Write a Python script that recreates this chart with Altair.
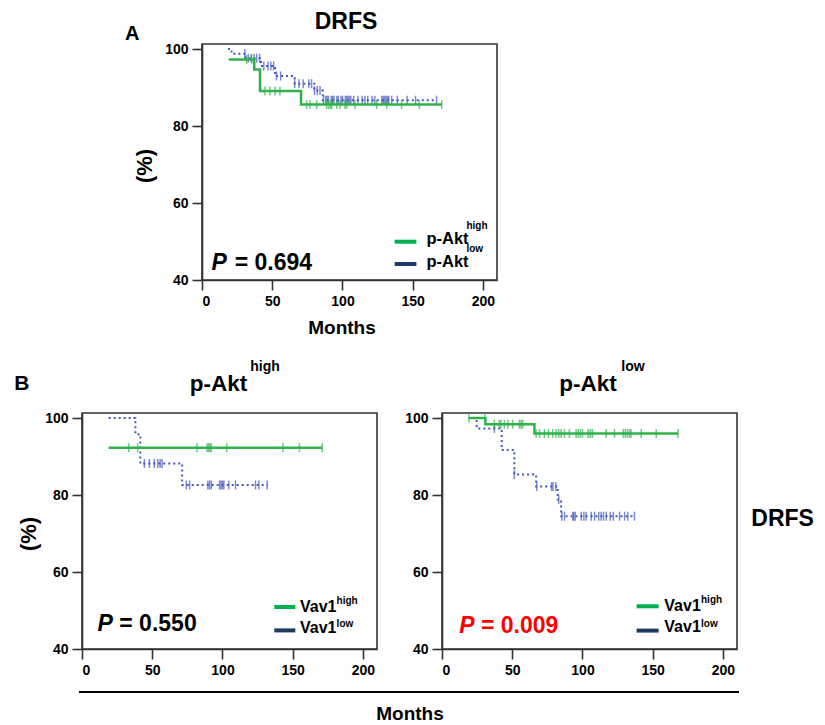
import altair as alt
import pandas as pd

FONT = "Liberation Sans"
GREEN = "#2fb24c"
BLUE = "#4458bd"
LEG_GREEN = "#00b050"
LEG_NAVY = "#1f3864"
RED = "#ff0000"

XTICKS = [0, 50, 100, 150, 200]
YTICKS = [40, 60, 80, 100]

# ---- Panel A: DRFS by p-Akt ----
a_hi_times = [19, 37.2, 41.3, 70.5]
a_hi_levels = [97.3, 94.7, 89.1, 85.6]
a_hi_end = 170.6
a_hi_cens = [31.8, 35.4, 44.8, 48.4, 52, 55.5, 74.5, 76.9, 81.6, 88.7, 90, 91.3, 92.3,
             95.9, 98.2, 101.8, 103, 108.9, 124.3, 131.5, 142.1, 154.7, 170.6]

a_lo_times = [18.5, 21, 31, 42, 52, 66, 80, 86]
a_lo_levels = [100, 98.8, 97.6, 95.6, 93.0, 91.0, 89.2, 86.7]
a_lo_end = 167
a_lo_cens = [30.5, 33, 35, 37, 39, 41, 44, 47, 49, 51, 53, 56, 66, 69, 72, 76, 78, 80, 82,
             84, 86.5, 88, 89, 90, 92, 93, 94, 96, 97, 99, 100, 102, 103, 104, 105, 106, 108,
             111, 114, 116, 118, 121, 123, 128, 129, 130, 131, 132, 133, 135, 139, 146, 152, 167]

# ---- Panel B-left: p-Akt high, by Vav1 ----
bl_hi_times = [19]
bl_hi_levels = [92.3]
bl_hi_end = 171
bl_hi_cens = [33.2, 39.6, 81.9, 89, 90, 91, 92, 103, 143, 154.8, 171]

bl_lo_times = [19, 38, 41.5, 71.3]
bl_lo_levels = [100, 95.8, 88.2, 82.6]
bl_lo_end = 132
bl_lo_cens = [44.4, 48, 51.5, 53.9, 55.6, 57, 74.2, 76.6, 89.6, 90.8, 92, 98, 99, 100, 101,
              104.5, 109.3, 123.5, 125.9, 131.8]

# ---- Panel B-right: p-Akt low, by Vav1 ----
br_hi_times = [19, 30.9, 65.8]
br_hi_levels = [100, 98.4, 96.0]
br_hi_end = 168
br_hi_cens = [19.2, 30.5, 37.3, 40.8, 42, 44.4, 46.8, 50.3, 55.1, 56.3, 57.4, 67, 69.4, 72.9,
              75.8, 78.8, 81.2, 83.1, 84.8, 87.2, 90.7, 95.5, 97, 98.5, 100, 104, 105.5, 107,
              116.9, 122.8, 129, 130.5, 132, 133.5, 134.5, 141.8, 152.5, 168]

br_lo_times = [19, 24.7, 42.5, 51.5, 67, 82.4, 84.8]
br_lo_levels = [100, 97.3, 91.7, 85.3, 82.2, 78.8, 74.5]
br_lo_end = 137
br_lo_cens = [37.3, 51.5, 67.5, 78, 79, 81, 83.1, 85.3, 87.2, 93.1, 93.8, 94.8, 99.1, 101,
              102.6, 106.2, 108.6, 111.6, 113.3, 115, 116.9, 119.7, 122, 126.4, 130, 132.3, 137]

W, H = 295, 236
xscale = alt.Scale(domain=[0, 210], nice=False, zero=False)
yscale = alt.Scale(domain=[40, 101.3], nice=False, zero=False)
xaxis = alt.Axis(values=XTICKS, title=None, grid=False, format="d")
yaxis = alt.Axis(values=YTICKS, title=None, grid=False, format="d")
ONE = pd.DataFrame({"k": [0]})


def steps(times, levels, end):
    return pd.DataFrame({"m": list(times) + [end], "s": list(levels) + [levels[-1]]})


def censor_df(times, levels, cens):
    ys = []
    for c in cens:
        lv = levels[0]
        for t, l in zip(times, levels):
            if t <= c:
                lv = l
        ys.append(lv)
    return pd.DataFrame({"m": cens, "s": ys})


def enc():
    return dict(x=alt.X("m:Q", scale=xscale, axis=xaxis), y=alt.Y("s:Q", scale=yscale, axis=yaxis))


def curve(times, levels, end, color, dotted=False):
    if dotted:
        mk = alt.Chart(steps(times, levels, end)).mark_line(
            interpolate="step-after", color=color, strokeWidth=2, strokeDash=[2, 3])
    else:
        mk = alt.Chart(steps(times, levels, end)).mark_line(
            interpolate="step-after", color=color, strokeWidth=2.5)
    return mk.encode(**enc())


def cticks(times, levels, cens, color):
    return alt.Chart(censor_df(times, levels, cens)).mark_tick(
        orient="vertical", size=9, thickness=1.5, color=color).encode(**enc())


def txt(s, x, y, size, color="black", align="left", baseline="middle", italic=False, angle=0):
    kw = dict(text=s, fontSize=size, font=FONT, fontWeight="bold", color=color,
              align=align, baseline=baseline)
    if italic:
        kw["fontStyle"] = "italic"
    if angle:
        kw["angle"] = angle
    return alt.Chart(ONE).mark_text(**kw).encode(x=alt.value(x), y=alt.value(y))


def swatch(x1, x2, y, color):
    return alt.Chart(ONE).mark_rule(color=color, strokeWidth=4).encode(
        x=alt.value(x1), x2=alt.value(x2), y=alt.value(y))


def legend(x1, x2, y1, y2, tx, ty1, ty2, sx, sy1, sy2, label, size):
    return [swatch(x1, x2, y1, LEG_GREEN), swatch(x1, x2, y2, LEG_NAVY),
            txt(label, tx, ty1, size), txt(label, tx, ty2, size),
            txt("high", sx, sy1, 10), txt("low", sx, sy2, 10)]


def pval(xp, xe, y, value, color="black"):
    return [txt("P", xp, y, 23, color=color, italic=True), txt("= " + value, xe, y, 23, color=color)]


# Panel A
panelA = alt.layer(
    curve(a_lo_times, a_lo_levels, a_lo_end, BLUE, dotted=True),
    cticks(a_lo_times, a_lo_levels, a_lo_cens, BLUE),
    curve(a_hi_times, a_hi_levels, a_hi_end, GREEN),
    cticks(a_hi_times, a_hi_levels, a_hi_cens, GREEN),
    txt("DRFS", 144, -15, 23, align="center", baseline="alphabetic"),
    txt("A", -77, -4, 20, baseline="alphabetic"),
    txt("(%)", -57, 122, 22, align="center", angle=270),
    txt("Months", 140, 284, 19, align="center"),
    *legend(192.7, 214.4, 197.7, 220, 224.4, 195, 217.5, 264.4, 182.2, 205, "p-Akt", 16.5),
    *pval(9.4, 32.7, 218.7, "0.694"),
).properties(width=W, height=H)

# Panel B-left
panelBL = alt.layer(
    curve(bl_lo_times, bl_lo_levels, bl_lo_end, BLUE, dotted=True),
    cticks(bl_lo_times, bl_lo_levels, bl_lo_cens, BLUE),
    curve(bl_hi_times, bl_hi_levels, bl_hi_end, GREEN),
    cticks(bl_hi_times, bl_hi_levels, bl_hi_cens, GREEN),
    txt("B", -67.7, -23.3, 21, baseline="alphabetic"),
    txt("p-Akt", 107.8, -22, 22.5, baseline="alphabetic"),
    txt("high", 168.3, -42, 14, baseline="alphabetic"),
    txt("(%)", -53, 121, 22, align="center", angle=270),
    *legend(192.3, 213.3, 194, 217.4, 218, 194, 215.4, 254.6, 187.9, 211.2, "Vav1", 16),
    *pval(15.6, 37.3, 210.7, "0.550"),
    alt.Chart(ONE).mark_rule(color="black", strokeWidth=2).encode(
        x=alt.value(-3), x2=alt.value(657), y=alt.value(279)),
    txt("Months", 328, 301, 19, align="center"),
).properties(width=W, height=H)

# Panel B-right
panelBR = alt.layer(
    curve(br_lo_times, br_lo_levels, br_lo_end, BLUE, dotted=True),
    cticks(br_lo_times, br_lo_levels, br_lo_cens, BLUE),
    curve(br_hi_times, br_hi_levels, br_hi_end, GREEN),
    cticks(br_hi_times, br_hi_levels, br_hi_cens, GREEN),
    txt("p-Akt", 117.3, -22, 22.5, baseline="alphabetic"),
    txt("low", 179.3, -42, 14, baseline="alphabetic"),
    txt("DRFS", 309.3, 106, 23),
    *legend(194.6, 216.6, 193.3, 217.6, 222.3, 192.6, 214.3, 259, 186.6, 211, "Vav1", 16),
    *pval(17.3, 39, 212.6, "0.009", color=RED),
).properties(width=W, height=H)

spacer = alt.Chart(ONE).mark_point(opacity=0).properties(
    width=120, height=H, view=alt.ViewBackground(strokeOpacity=0))

rowA = alt.hconcat(spacer, panelA, spacing=0, bounds="flush")
rowB = alt.hconcat(panelBL, panelBR, spacing=65, bounds="flush")

chart = alt.vconcat(rowA, rowB, spacing=369, bounds="flush").configure_view(
    stroke="#333333", strokeWidth=1.6
).configure_axis(
    labelFont=FONT, labelFontSize=14, labelFontWeight="bold", labelColor="black",
    tickSize=10, tickWidth=1.6, tickColor="#333333", domainColor="#333333", domainWidth=1.6,
    labelPadding=4, grid=False
).properties(padding={"left": 5, "top": 2, "right": 2, "bottom": 2})

chart.save("out.html", embed_options={"renderer": "svg", "actions": False})
